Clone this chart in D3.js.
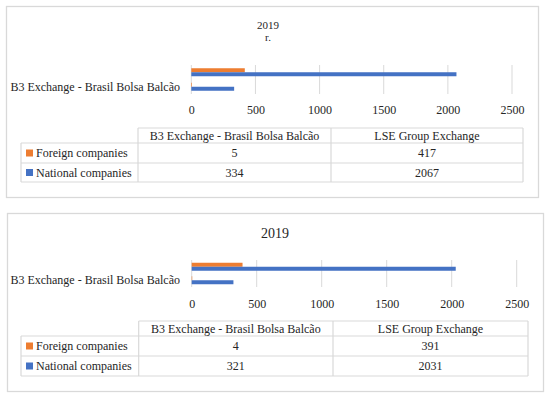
<!DOCTYPE html>
<html><head><meta charset="utf-8">
<script src="https://cdn.jsdelivr.net/npm/d3@7"></script>
<style>body{margin:0;background:#fff}svg{display:block}text{font-family:"Liberation Serif","Times New Roman",serif;fill:#262626}</style>
</head><body>
<svg id="c" width="550" height="398"></svg>
<script>
const exchanges = ["B3 Exchange - Brasil Bolsa Balcão", "LSE Group Exchange"];
const seriesNames = ["Foreign companies", "National companies"];
const seriesColors = ["#ED7D31", "#4472C4"];
const ticks = [0, 500, 1000, 1500, 2000, 2500];

const titles1 = ["2019", "r."];
const foreign1 = [5, 417];
const national1 = [334, 2067];

const titles2 = ["2019"];
const foreign2 = [4, 391];
const national2 = [321, 2031];

const svg = d3.select("#c");

function drawPanel(p, titles, foreign, national) {
  const g = svg.append("g");
  const vals = [foreign, national];
  g.append("rect").attr("x", p.box[0]+0.5).attr("y", p.box[1]+0.5)
    .attr("width", p.box[2]-p.box[0]).attr("height", p.box[3]-p.box[1])
    .attr("fill", "#fff").attr("stroke", "#d9d9d9").attr("stroke-width", 1.3);
  titles.forEach((t, i) => {
    g.append("text").attr("x", p.titleX).attr("y", p.titleY[i]).attr("text-anchor", "middle")
      .attr("dominant-baseline", "central").style("font-size", p.titleSize + "px").text(t);
  });
  const x = d3.scaleLinear().domain([0, 2500]).range(p.xr);
  const y = d3.scaleBand().domain(exchanges.slice().reverse()).range(p.yr).paddingInner(0).paddingOuter(0);
  const bh = 4;
  // gridlines
  g.append("g").selectAll("line").data(ticks).join("line")
    .attr("x1", d => x(d)).attr("x2", d => x(d)).attr("y1", p.yr[0]).attr("y2", p.yr[1])
    .attr("stroke", "#d9d9d9").attr("stroke-width", 1);
  // bars
  exchanges.forEach((ex, ci) => {
    const c = y(ex) + y.bandwidth() / 2;
    vals.forEach((arr, si) => {
      g.append("rect").attr("x", x(0)).attr("y", c - bh + si * bh)
        .attr("width", x(arr[ci]) - x(0)).attr("height", bh).attr("fill", seriesColors[si]);
    });
  });
  // category axis (only first label displayed, as in reference)
  const ya = d3.axisLeft(y).tickValues([exchanges[0]]).tickSize(0).tickPadding(0);
  const yg = g.append("g").attr("transform", `translate(${p.catX},0)`).call(ya);
  yg.select(".domain").remove();
  yg.selectAll("text").style("font-size", "12px").attr("font-family", null).attr("fill", "#262626").attr("dy", "0.32em");
  // value axis labels
  const xa = d3.axisBottom(x).tickValues(ticks).tickFormat(d3.format("d")).tickSize(0).tickPadding(0);
  const xg = g.append("g").attr("transform", `translate(0,${p.tickY})`).call(xa);
  xg.select(".domain").remove();
  xg.selectAll("text").style("font-size", "12px").attr("font-family", null).attr("fill", "#262626").attr("dy", "0.32em").attr("y", 0);
  // data table
  const [c0, c1, c2, c3] = p.cols;
  const [r0, r1, r2, r3] = p.rows;
  const lc = "#d9d9d9";
  const line = (x1, y1, x2, y2) => g.append("line").attr("x1", x1).attr("y1", y1).attr("x2", x2).attr("y2", y2).attr("stroke", lc).attr("stroke-width", 1.2);
  line(c1, r0, c3, r0);
  line(c0, r1, c3, r1);
  line(c0, r2, c3, r2);
  line(c0, r3, c3, r3);
  line(c0, r1, c0, r3);
  line(c1, r0, c1, r3);
  line(c2, r0, c2, r3);
  line(c3, r0, c3, r3);
  const txt = (tx, ty, s, anchor) => g.append("text").attr("x", tx).attr("y", ty).attr("text-anchor", anchor)
    .attr("dominant-baseline", "central").style("font-size", "12px").text(s);
  exchanges.forEach((ex, i) => txt(i === 0 ? (c1 + c2) / 2 : (c2 + c3) / 2, (r0 + r1) / 2, ex, "middle"));
  const rowMid = [(r1 + r2) / 2, (r2 + r3) / 2];
  seriesNames.forEach((s, si) => {
    g.append("rect").attr("x", c0 + 5).attr("y", rowMid[si] - 3.5).attr("width", 7).attr("height", 7).attr("fill", seriesColors[si]);
    txt(c0 + 15, rowMid[si], s, "start");
    vals[si].forEach((v, ci) => txt(ci === 0 ? (c1 + c2) / 2 : (c2 + c3) / 2, rowMid[si], v, "middle"));
  });
}

drawPanel({box: [6, 6, 538, 197], titleX: 268, titleY: [25, 37], titleSize: 11,
  xr: [191.3, 512], yr: [65, 94], catX: 180, tickY: 110,
  cols: [21, 138, 331, 523], rows: [128, 143, 163, 182]}, titles1, foreign1, national1);

drawPanel({box: [7, 213, 543, 391], titleX: 275, titleY: [233], titleSize: 14,
  xr: [191.7, 516.7], yr: [260, 287], catX: 180, tickY: 304,
  cols: [21, 138.7, 333, 528], rows: [321, 336, 356, 376]}, titles2, foreign2, national2);
</script>
</body></html>
